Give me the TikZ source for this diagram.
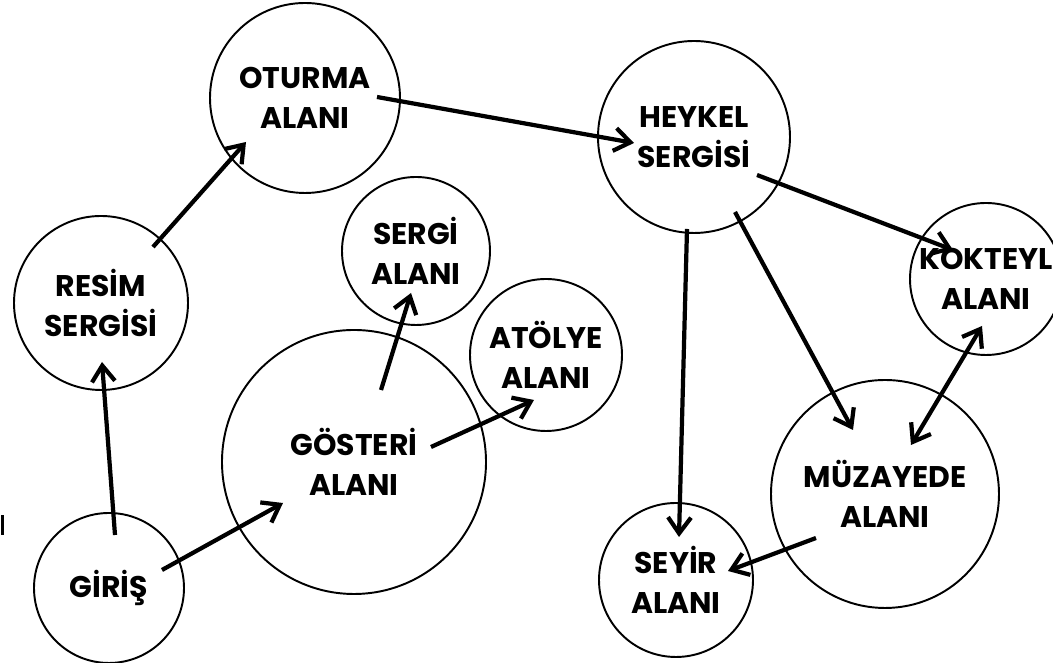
\documentclass[tikz,border=0pt]{standalone}
\usepackage{fontspec}
\setmainfont{Poppins}
\usetikzlibrary{arrows.meta, calc}

\begin{document}
\begin{tikzpicture}[
    alan/.style={circle, draw, line width=1.1pt, inner sep=0pt, align=center, font=\bfseries\fontsize{17}{22.5}\selectfont},
    ok/.style={-{Straight Barb[length=3.2mm, width=4.6mm]}, line width=2.4pt},
    ciftok/.style={{Straight Barb[length=3.2mm, width=4.6mm]}-{Straight Barb[length=3.2mm, width=4.6mm]}, line width=2.4pt}
]
\clip (0,0) rectangle (21.06,13.26);

% sol taraf
\node[alan, minimum size=3.0cm] (giris) at (2.18,1.50) {GİRİŞ};
\node[alan, minimum size=3.48cm] (resim) at (2.02,7.20) {RESİM\\SERGİSİ};
\node[alan, minimum size=3.8cm] (oturma) at (6.10,11.30) {OTURMA\\ALANI};

% orta
\node[alan, minimum size=5.28cm] (gosteri) at (7.08,4.02) {GÖSTERİ\\ALANI};
\node[alan, minimum size=2.96cm] (sergi) at (8.32,8.24) {SERGİ\\ALANI};
\node[alan, minimum size=3.04cm] (atolye) at (10.92,6.16) {ATÖLYE\\ALANI};

% sag taraf
\node[alan, minimum size=3.84cm] (heykel) at (13.88,10.52) {HEYKEL\\SERGİSİ};
\node[alan, minimum size=3.04cm] (kokteyl) at (19.72,7.68) {KOKTEYL\\ALANI};
\node[alan, minimum size=4.56cm] (muzayede) at (17.70,3.38) {MÜZAYEDE\\ALANI};
\node[alan, minimum size=3.08cm] (seyir) at (13.52,1.66) {SEYİR\\ALANI};

% kenardaki cizgi
\coordinate (imle) at (0.05,2.56);
\draw[line width=1.2pt] (imle) -- ++(0,0.4);

% oklar
\draw[ok] ($(giris)+(0.12,1.06)$) -- ($(resim)+(0.02,-1.18)$);
\draw[ok] ($(giris)+(1.06,0.36)$) -- ($(gosteri)+(-1.42,-0.82)$);
\draw[ok] ($(resim)+(1.04,1.12)$) -- ($(oturma)+(-1.18,-0.88)$);
\draw[ok] ($(oturma)+(1.44,0.02)$) -- ($(heykel)+(-1.20,-0.12)$);
\draw[ok] ($(gosteri)+(0.54,1.44)$) -- ($(sergi)+(-0.10,-0.84)$);
\draw[ok] ($(gosteri)+(1.54,0.30)$) -- ($(atolye)+(-0.24,-0.90)$);
\draw[ok] ($(heykel)+(1.26,-0.76)$) -- ($(kokteyl)+(-0.66,0.58)$);
\draw[ok] ($(heykel)+(-0.14,-1.84)$) -- ($(seyir)+(0.06,0.86)$);
\draw[ok] ($(heykel)+(0.82,-1.50)$) -- ($(muzayede)+(-0.64,1.28)$);
\draw[ciftok] ($(kokteyl)+(-0.08,-0.94)$) -- ($(muzayede)+(0.52,0.98)$);
\draw[ok] ($(muzayede)+(-1.38,-0.88)$) -- ($(seyir)+(1.04,0.18)$);

\end{tikzpicture}
\end{document}
